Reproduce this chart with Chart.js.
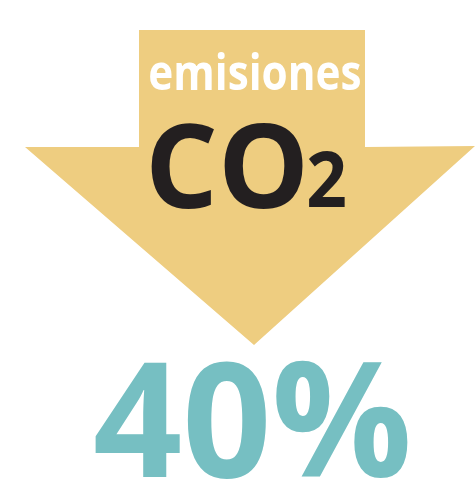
<!DOCTYPE html>
<html><head><meta charset="utf-8">
<script src="https://cdn.jsdelivr.net/npm/chart.js@4/dist/chart.umd.min.js"></script>
<style>html,body{margin:0;padding:0;background:#fff}#w{width:475px;height:489px}</style>
</head><body><div id="w"><canvas id="c" width="475" height="489"></canvas></div>
<script>
const arrowX = [139, 365, 365, 475, 254, 25, 139, 139];
const arrowY = [30, 30, 147, 146, 345, 147, 147, 30];
const labelTop = "emisiones";
const labelMain = "CO";
const labelSub = "2";
const valueLabel = "40%";

const pts = arrowX.map((x, i) => ({x, y: arrowY[i]}));

// draw text with ink spanning [x0,x1] horizontally, at given baseline and font size
function drawFit(ctx, text, size, color, x0, x1, baseline) {
  ctx.font = 'bold ' + size + 'px "Open Sans"';
  const m = ctx.measureText(text);
  const inkW = m.actualBoundingBoxLeft + m.actualBoundingBoxRight;
  const sx = (x1 - x0) / inkW;
  ctx.save();
  ctx.translate(x0, baseline);
  ctx.scale(sx, 1);
  ctx.fillStyle = color;
  ctx.fillText(text, m.actualBoundingBoxLeft, 0);
  ctx.restore();
}

const textPlugin = {
  id: 'texts',
  afterDatasetsDraw(chart) {
    const ctx = chart.ctx;
    const X = v => chart.scales.x.getPixelForValue(v);
    const Y = v => chart.scales.y.getPixelForValue(v);
    ctx.save();
    ctx.textBaseline = 'alphabetic';
    ctx.textAlign = 'left';
    drawFit(ctx, labelTop, 50, '#ffffff', X(150), X(360), Y(90));
    drawFit(ctx, labelMain, 116, '#231f20', X(151), X(303), Y(208));
    drawFit(ctx, labelSub, 77, '#231f20', X(308), X(345), Y(207));
    drawFit(ctx, valueLabel, 160, '#76bfc2', X(95), X(408), Y(477));
    ctx.restore();
  }
};

new Chart(document.getElementById('c'), {
  type: 'scatter',
  data: { datasets: [{
    data: pts, showLine: true, fill: 'shape',
    backgroundColor: '#eecd80', borderColor: '#eecd80', borderWidth: 0,
    pointRadius: 0, tension: 0
  }]},
  options: {
    responsive: false, animation: false,
    layout: { padding: 0 },
    plugins: { legend: {display:false}, tooltip: {enabled:false}, title:{display:false} },
    scales: {
      x: { type:'linear', min:0, max:475, display:false },
      y: { type:'linear', min:0, max:489, reverse:true, display:false }
    }
  },
  plugins: [textPlugin]
});
</script></body></html>
